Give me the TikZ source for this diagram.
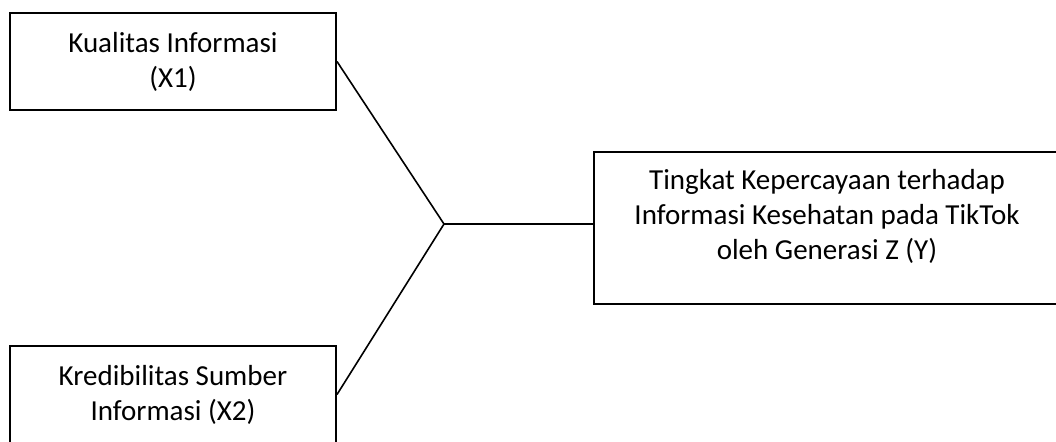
\documentclass[tikz,border=0pt]{standalone}
\usepackage{fontspec}
\setmainfont{Carlito}
\usetikzlibrary{arrows}

\begin{document}
\begin{tikzpicture}[-,x=0.5pt,y=-0.5pt,node distance=166.5pt,
                    thick,main node/.style={rectangle,draw,line width=1pt,align=center,font=\fontsize{14.5}{17.5}\selectfont,minimum height=48.5pt}]
  \useasboundingbox (0,0) rectangle (1056,441);
  \clip (0,0) rectangle (1056,441);

  %X%
  \node[main node,minimum width=163pt] (1) at (173,61.5) {Kualitas Informasi\\(X1)};
  \node[main node,minimum width=163pt] (2) [below of=1] {Kredibilitas Sumber\\Informasi (X2)};
  %Y%
  \node[main node,minimum width=233pt,minimum height=76pt] (3) at (827,228) {Tingkat Kepercayaan terhadap\\Informasi Kesehatan pada TikTok\\oleh Generasi Z (Y)\\[-4pt]\mbox{}};
  \coordinate (4) at (444,224);

  \path
    (1.east) edge (4)
    (2.east) edge (4)
    (4) edge (3.west |- 4);
\end{tikzpicture}
\end{document}
